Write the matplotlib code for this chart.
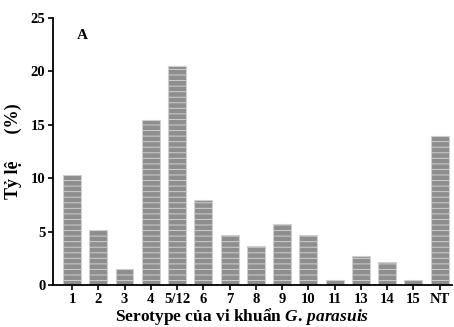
import matplotlib
matplotlib.use("Agg")
import matplotlib.pyplot as plt

serotypes = ["1", "2", "3", "4", "5/12", "6", "7", "8", "9", "10", "11", "13", "14", "15", "NT"]
ty_le = [10.3, 5.2, 1.5, 15.5, 20.5, 8.0, 4.7, 3.7, 5.7, 4.7, 0.5, 2.7, 2.2, 0.5, 14.0]

plt.rcParams['font.family'] = ['Liberation Serif', 'DejaVu Serif']
plt.rcParams['font.weight'] = 'bold'
plt.rcParams['mathtext.fontset'] = 'custom'
plt.rcParams['mathtext.it'] = 'Liberation Serif:italic:bold'
plt.rcParams['mathtext.rm'] = 'Liberation Serif:bold'
plt.rcParams['hatch.color'] = '#cfcfcf'
plt.rcParams['hatch.linewidth'] = 0.7

fig = plt.figure(figsize=(4.54, 3.27), dpi=100)
ax = fig.add_axes([0.117, 0.128, 0.878, 0.817])

x = list(range(len(serotypes)))
ax.bar(x, ty_le, width=0.68, color='#8e8e8e', hatch='---', edgecolor='#cfcfcf', linewidth=0.8)

ax.set_xlim(-0.72, 14.46)
ax.set_ylim(0, 25)
ax.set_yticks([0, 5, 10, 15, 20, 25])
ax.set_xticks(x)
ax.set_xticklabels(serotypes)
ax.spines['top'].set_visible(False)
ax.spines['right'].set_visible(False)
ax.spines['left'].set_linewidth(1.3)
ax.spines['bottom'].set_linewidth(1.3)
ax.tick_params(axis='both', labelsize=10.5, width=1.2, length=3.5, pad=2)
for lbl in ax.get_xticklabels() + ax.get_yticklabels():
    lbl.set_fontweight('bold')

ax.set_ylabel("Tỷ lệ      (%)", fontsize=13, fontweight='bold', labelpad=6)
ax.set_xlabel("Serotype của vi khuẩn $\\mathit{G.\\,parasuis}$", fontsize=12.5, fontweight='bold', labelpad=0)
ax.xaxis.label.set_x(0.475)
ax.text(0.06, 0.96, "A", transform=ax.transAxes, fontsize=11, fontweight='bold', va='top')

fig.savefig("out.png", dpi=100)
